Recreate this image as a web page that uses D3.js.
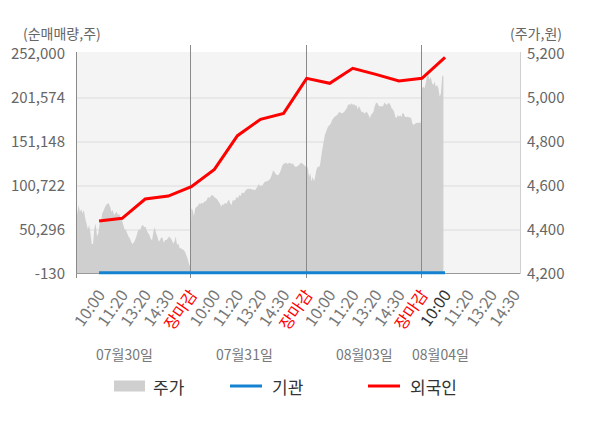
<!DOCTYPE html>
<html>
<head>
<meta charset="utf-8">
<script src="https://cdn.jsdelivr.net/npm/d3@7"></script>
<style>
  body { margin: 0; background: #fff; font-family: "Noto Sans CJK KR", "Noto Sans", sans-serif; }
</style>
</head>
<body>
<div id="chart"></div>
<script>
// 데이터
const dates = ['07월30일', '07월31일', '08월03일', '08월04일']
const timeLabels = ['10:00', '11:20', '13:20', '14:30']
const closeLabel = '장마감'
const leftTicks = [-130, 50296, 100722, 151148, 201574, 252000]
const rightTicks = [4200, 4400, 4600, 4800, 5000, 5200]

// 주가 (분 단위, 일자별)
const price0730 = [4435, 4476, 4514, 4483, 4494, 4476, 4491, 4453, 4430, 4403, 4423, 4385, 4336, 4336, 4408, 4430,
  4370, 4385, 4430, 4438, 4476, 4488, 4503, 4514, 4521, 4521, 4506, 4483, 4491, 4468, 4476, 4483, 4468, 4473,
  4453, 4445, 4423, 4403, 4400, 4385, 4370, 4362, 4347, 4336, 4342, 4355, 4370, 4392, 4403, 4400, 4418, 4423,
  4412, 4415, 4397, 4385, 4377, 4358, 4355, 4392, 4412, 4385, 4370, 4347, 4355, 4367, 4362, 4342, 4355, 4355,
  4362, 4370, 4362, 4355, 4339, 4347, 4370, 4332, 4339, 4317, 4317, 4312, 4309, 4302, 4286, 4271, 4248, 4233]
const price0731 = [4498, 4491, 4464, 4498, 4506, 4509, 4521, 4518, 4524, 4521, 4529, 4529, 4539, 4551, 4544, 4555,
  4559, 4555, 4548, 4544, 4539, 4529, 4521, 4506, 4518, 4514, 4524, 4518, 4529, 4539, 4521, 4514, 4536, 4533,
  4539, 4551, 4544, 4559, 4555, 4570, 4567, 4570, 4582, 4585, 4589, 4585, 4589, 4582, 4585, 4579, 4589, 4597,
  4609, 4600, 4600, 4605, 4615, 4620, 4620, 4624, 4627, 4635, 4650, 4670, 4665, 4655, 4650, 4650, 4658, 4673,
  4691, 4700, 4703, 4706, 4700, 4703, 4706, 4700, 4703, 4695, 4688, 4688, 4691, 4695, 4703, 4706, 4700, 4695, 4688]
const price0803 = [4695, 4680, 4642, 4658, 4620, 4642, 4620, 4642, 4673, 4688, 4685, 4695, 4733, 4771, 4801, 4832,
  4847, 4862, 4873, 4877, 4885, 4900, 4908, 4915, 4918, 4923, 4930, 4938, 4933, 4930, 4933, 4938, 4945, 4953,
  4968, 4973, 4968, 4976, 4968, 4973, 4964, 4968, 4948, 4964, 4953, 4938, 4938, 4933, 4930, 4938, 4933, 4923,
  4908, 4923, 4930, 4938, 4961, 4976, 4979, 4968, 4961, 4964, 4961, 4964, 4979, 4973, 4968, 4976, 4976, 4968,
  4953, 4948, 4938, 4915, 4908, 4923, 4915, 4923, 4912, 4933, 4927, 4915, 4912, 4915, 4912, 4912, 4908, 4885,
  4877, 4882, 4885, 4888, 4888, 4888, 4888]
const price0804 = [5044, 5051, 5044, 5067, 5097, 5104, 5082, 5097, 5067, 5059, 5074, 5051, 5059, 5044, 5006, 5021,
  5097, 5104]

// 순매매량 (시간 라벨마다 한 점: 10:00 ~ 장마감)
const foreign = [60600, 63700, 85800, 89200, 99900, 119800, 158400, 177200, 184000, 224100, 218400, 235600,
  228700, 221000, 224100, 248200]
const institution = [1300, 1300, 1300, 1300, 1300, 1300, 1300, 1300, 1300, 1300, 1300, 1300, 1300, 1300, 1300, 1300]

// 레이아웃
const width = 600
const height = 428
const plotLeft = 76
const plotRight = 520
const plotTop = 54
const plotBottom = 274
const slotsPerDay = 5
const lastDayCover = 0.93   // 마지막 날은 10:00 무렵까지만 데이터
const currentSlot = 16      // 현재 시각 (08월04일 10:00)
const dateLabelSlot = [2.1, 7.3, 12.5, 15.8]
const fmt = v => d3.format(',')(v).replace('\u2212', '-')

const svg = d3.select('#chart').append('svg')
  .attr('width', width)
  .attr('height', height)

const x = d3.scaleLinear().domain([0, 19.25]).range([plotLeft, plotRight])
const yLeft = d3.scaleLinear().domain([leftTicks[0], leftTicks[leftTicks.length - 1]]).range([plotBottom, plotTop])
const yRight = d3.scaleLinear().domain([rightTicks[0], rightTicks[rightTicks.length - 1]]).range([plotBottom, plotTop])

// 배경
svg.append('rect')
  .attr('x', plotLeft).attr('y', plotTop - 2)
  .attr('width', plotRight - plotLeft).attr('height', plotBottom - plotTop + 2)
  .attr('fill', '#f4f4f4')

// 가로 그리드
svg.append('g').selectAll('line')
  .data(leftTicks.slice(1, -1))
  .enter().append('line')
  .attr('x1', plotLeft).attr('x2', plotRight)
  .attr('y1', d => yLeft(d)).attr('y2', d => yLeft(d))
  .attr('stroke', '#dcdcdc').attr('stroke-width', 1)

// 주가 영역
const pricePoints = []
;[price0730, price0731, price0803, price0804].forEach((arr, d) => {
  const span = d === 3 ? lastDayCover : slotsPerDay - 0.05
  arr.forEach((v, i) => {
    pricePoints.push({ slot: d * slotsPerDay + i / (arr.length - 1) * span, v: v })
  })
})

svg.append('path')
  .datum(pricePoints)
  .attr('fill', '#cfcfcf')
  .attr('d', d3.area()
    .x(d => x(d.slot))
    .y0(plotBottom)
    .y1(d => yRight(d.v)))

// 일자 구분선
const dividers = d3.range(1, dates.length).map(d => d * slotsPerDay)
svg.append('g').selectAll('line')
  .data(dividers)
  .enter().append('line')
  .attr('x1', d => Math.round(x(d)) - 0.5).attr('x2', d => Math.round(x(d)) - 0.5)
  .attr('y1', 45).attr('y2', plotBottom + 4)
  .attr('stroke', '#8a8a8a')

// 왼쪽/오른쪽/아래 테두리
svg.append('line')
  .attr('x1', plotLeft + 0.5).attr('x2', plotLeft + 0.5)
  .attr('y1', plotTop - 2).attr('y2', plotBottom + 4)
  .attr('stroke', '#8a8a8a')
svg.append('line')
  .attr('x1', plotRight + 0.5).attr('x2', plotRight + 0.5)
  .attr('y1', plotTop - 2).attr('y2', plotBottom)
  .attr('stroke', '#d0d0d0')
svg.append('line')
  .attr('x1', plotLeft).attr('x2', plotRight)
  .attr('y1', plotBottom - 0.5).attr('y2', plotBottom - 0.5)
  .attr('stroke', '#999')

// 순매매량 선
const netLine = d3.line()
  .x((d, i) => x(i + 1))
  .y(d => yLeft(d))

svg.append('path')
  .datum(foreign)
  .attr('fill', 'none')
  .attr('stroke', '#ff0000')
  .attr('stroke-width', 3)
  .attr('d', netLine)

svg.append('path')
  .datum(institution)
  .attr('fill', 'none')
  .attr('stroke', '#1482d0')
  .attr('stroke-width', 3)
  .attr('d', netLine)

// Y축
const leftAxis = svg.append('g')
  .attr('transform', 'translate(' + plotLeft + ',0)')
  .call(d3.axisLeft(yLeft).tickValues(leftTicks).tickFormat(fmt).tickSize(0).tickPadding(11))
const rightAxis = svg.append('g')
  .attr('transform', 'translate(' + plotRight + ',0)')
  .call(d3.axisRight(yRight).tickValues(rightTicks).tickFormat(fmt).tickSize(0).tickPadding(7))

;[leftAxis, rightAxis].forEach(g => {
  g.select('.domain').remove()
  g.selectAll('text')
    .attr('fill', '#666')
    .style('font-size', '15px')
    .style('font-family', '"Noto Sans CJK KR", "Noto Sans", sans-serif')
})

svg.append('text')
  .attr('x', 23).attr('y', 33)
  .attr('dominant-baseline', 'central')
  .attr('fill', '#666').style('font-size', '14px')
  .text('(순매매량,주)')
svg.append('text')
  .attr('x', 562).attr('y', 33)
  .attr('text-anchor', 'end')
  .attr('dominant-baseline', 'central')
  .attr('fill', '#666').style('font-size', '14px')
  .text('(주가,원)')

// X축 라벨
const xTicks = []
dates.forEach((dt, d) => {
  timeLabels.forEach((t, k) => xTicks.push({ slot: d * slotsPerDay + k + 1, label: t }))
  if (d < dates.length - 1) xTicks.push({ slot: (d + 1) * slotsPerDay, label: closeLabel })
})

svg.append('g').selectAll('text')
  .data(xTicks)
  .enter().append('text')
  .attr('transform', d => 'translate(' + (x(d.slot) + 1) + ',' + 291 + ') rotate(-55)')
  .attr('text-anchor', 'end')
  .attr('dominant-baseline', 'central')
  .style('font-size', '16px')
  .attr('fill', d => d.label === closeLabel ? '#ff0000' : (d.slot === currentSlot ? '#333' : '#777'))
  .text(d => d.label)

svg.append('g').selectAll('text')
  .data(dates)
  .enter().append('text')
  .attr('x', (d, i) => x(dateLabelSlot[i]))
  .attr('y', 354)
  .attr('text-anchor', 'middle')
  .attr('dominant-baseline', 'central')
  .attr('fill', '#777')
  .style('font-size', '14px')
  .text(d => d)

// 범례
const legend = svg.append('g').attr('transform', 'translate(0,386)')
legend.append('rect')
  .attr('x', 114).attr('y', -5.5).attr('width', 31).attr('height', 11)
  .attr('fill', '#cfcfcf')
legend.append('line')
  .attr('x1', 230).attr('x2', 262).attr('y1', 0).attr('y2', 0)
  .attr('stroke', '#1482d0').attr('stroke-width', 3)
legend.append('line')
  .attr('x1', 368).attr('x2', 400).attr('y1', 0).attr('y2', 0)
  .attr('stroke', '#ff0000').attr('stroke-width', 3)
legend.selectAll('text')
  .data([['주가', 153], ['기관', 272], ['외국인', 410]])
  .enter().append('text')
  .attr('x', d => d[1]).attr('y', 0)
  .attr('dominant-baseline', 'central')
  .attr('fill', '#333')
  .style('font-size', '17px')
  .text(d => d[0])
</script>
</body>
</html>
